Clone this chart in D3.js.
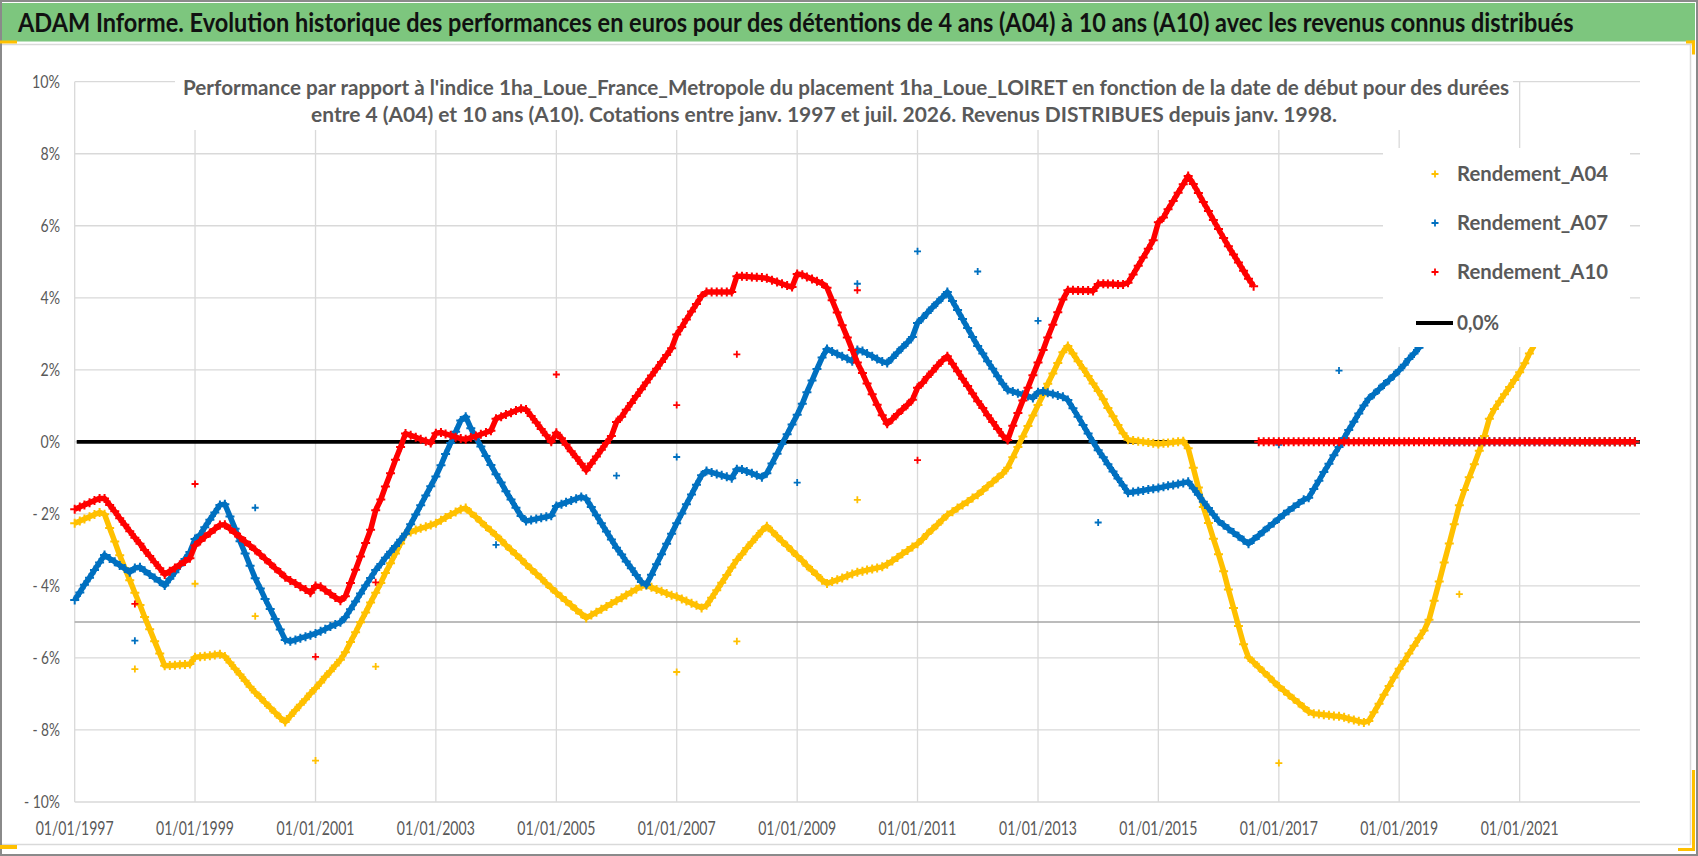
<!DOCTYPE html>
<html><head><meta charset="utf-8">
<script src="https://cdn.jsdelivr.net/npm/d3@7"></script>
<style>html,body{margin:0;padding:0;background:#fff;overflow:hidden}svg{display:block;font-family:Lato,'Open Sans',sans-serif}</style>
</head><body>
<svg id="chart" width="1698" height="856"></svg>
<script>
// ---------------- DATA ----------------
const titleText = "ADAM Informe. Evolution historique des performances en euros pour des détentions de 4 ans (A04) à 10 ans (A10) avec les revenus connus distribués";
const subtitleLines = [
  "Performance par rapport à l'indice 1ha_Loue_France_Metropole  du placement 1ha_Loue_LOIRET en fonction de la date de début pour des durées",
  "entre 4 (A04) et 10 ans (A10). Cotations entre janv. 1997 et juil. 2026. Revenus DISTRIBUES depuis janv. 1998."
];
const years = [1997,1998,1999,2000,2001,2002,2003,2004,2005,2006,2007,2008,2009,2010,2011,2012,2013,2014,2015,2016,2017,2018,2019,2020,2021,2022];
const xTickYears = [1997,1999,2001,2003,2005,2007,2009,2011,2013,2015,2017,2019,2021];
const yTicks = [-10,-8,-6,-4,-2,0,2,4,6,8,10];
const seriesNames = ["Rendement_A04","Rendement_A07","Rendement_A10"];
const zeroName = "0,0%";

// monthly values (%), one row per year, Jan..Dec
const A04 = [
[-2.26,-2.20,-2.14,-2.08,-2.02,-1.96,-2.01,-2.39,-2.77,-3.15,-3.50,-3.84],
[-4.19,-4.53,-4.86,-5.20,-5.54,-5.88,-6.22,-6.21,-6.20,-6.19,-6.18,-6.17],
[-5.98,-5.97,-5.95,-5.94,-5.92,-5.90,-5.96,-6.13,-6.30,-6.46,-6.63,-6.80],
[-6.96,-7.10,-7.24,-7.38,-7.52,-7.66,-7.78,-7.61,-7.45,-7.30,-7.15,-6.99],
[-6.84,-6.68,-6.52,-6.37,-6.21,-6.05,-5.84,-5.56,-5.29,-5.01,-4.74,-4.46],
[-4.19,-3.92,-3.64,-3.37,-3.10,-2.82,-2.55,-2.50,-2.45,-2.40,-2.36,-2.31],
[-2.26,-2.18,-2.10,-2.02,-1.95,-1.87,-1.84,-1.97,-2.09,-2.22,-2.35,-2.47],
[-2.60,-2.73,-2.87,-3.00,-3.13,-3.26,-3.40,-3.53,-3.66,-3.79,-3.93,-4.06],
[-4.19,-4.31,-4.42,-4.54,-4.66,-4.77,-4.89,-4.81,-4.73,-4.65,-4.57,-4.49],
[-4.41,-4.33,-4.25,-4.17,-4.09,-4.01,-3.98,-4.04,-4.10,-4.15,-4.21,-4.26],
[-4.30,-4.36,-4.42,-4.48,-4.54,-4.61,-4.54,-4.33,-4.12,-3.91,-3.70,-3.49],
[-3.28,-3.12,-2.95,-2.79,-2.63,-2.47,-2.34,-2.48,-2.62,-2.76,-2.89,-3.03],
[-3.17,-3.30,-3.44,-3.57,-3.70,-3.84,-3.93,-3.88,-3.83,-3.78,-3.72,-3.67],
[-3.62,-3.59,-3.56,-3.53,-3.50,-3.47,-3.40,-3.31,-3.21,-3.11,-3.02,-2.92],
[-2.83,-2.70,-2.56,-2.43,-2.30,-2.16,-2.03,-1.94,-1.84,-1.75,-1.66,-1.56],
[-1.47,-1.35,-1.23,-1.12,-1.00,-0.88,-0.72,-0.43,-0.14,0.15,0.44,0.73],
[1.02,1.31,1.61,1.90,2.19,2.49,2.66,2.45,2.24,2.04,1.83,1.62],
[1.41,1.18,0.94,0.71,0.47,0.24,0.06,0.04,0.02,0.00,-0.02,-0.04],
[-0.06,-0.04,-0.03,-0.01,0.00,0.02,-0.18,-0.72,-1.27,-1.81,-2.25,-2.69],
[-3.12,-3.59,-4.10,-4.61,-5.11,-5.62,-5.99,-6.12,-6.26,-6.39,-6.52,-6.66],
[-6.79,-6.91,-7.02,-7.14,-7.25,-7.37,-7.49,-7.55,-7.56,-7.58,-7.59,-7.61],
[-7.62,-7.65,-7.69,-7.72,-7.76,-7.79,-7.75,-7.51,-7.27,-7.02,-6.78,-6.54],
[-6.30,-6.09,-5.88,-5.66,-5.45,-5.24,-4.94,-4.41,-3.88,-3.35,-2.82,-2.29],
[-1.76,-1.34,-0.98,-0.62,-0.25,0.16,0.64,0.91,1.12,1.32,1.52,1.72],
[1.93,2.18,2.45,2.70,2.95,3.20,3.45,3.70,3.95,0,0,0],
[0,0,0,0,0,0,0,0,0,0,0,0]
];
const A07 = [
[-4.39,-4.18,-3.97,-3.77,-3.56,-3.35,-3.14,-3.24,-3.33,-3.43,-3.52,-3.62],
[-3.50,-3.48,-3.58,-3.68,-3.78,-3.88,-3.99,-3.80,-3.62,-3.43,-3.25,-3.06],
[-2.70,-2.58,-2.37,-2.16,-1.96,-1.75,-1.73,-2.07,-2.41,-2.76,-3.10,-3.44],
[-3.79,-4.07,-4.36,-4.64,-4.92,-5.21,-5.50,-5.54,-5.50,-5.45,-5.41,-5.37],
[-5.32,-5.26,-5.20,-5.13,-5.07,-5.01,-4.87,-4.65,-4.43,-4.21,-3.99,-3.78],
[-3.56,-3.39,-3.22,-3.05,-2.89,-2.72,-2.55,-2.29,-2.02,-1.76,-1.49,-1.23],
[-0.96,-0.65,-0.34,-0.03,0.28,0.59,0.70,0.38,0.12,-0.13,-0.39,-0.64],
[-0.90,-1.13,-1.37,-1.60,-1.83,-2.06,-2.20,-2.17,-2.14,-2.11,-2.08,-2.05],
[-1.78,-1.73,-1.68,-1.63,-1.58,-1.53,-1.58,-1.81,-2.04,-2.26,-2.49,-2.71],
[-2.94,-3.13,-3.32,-3.51,-3.70,-3.89,-3.97,-3.69,-3.40,-3.12,-2.83,-2.55],
[-2.26,-1.99,-1.73,-1.46,-1.19,-0.93,-0.81,-0.85,-0.89,-0.93,-0.97,-1.01],
[-0.76,-0.77,-0.82,-0.87,-0.93,-0.98,-0.87,-0.60,-0.33,-0.06,0.21,0.48],
[0.75,1.06,1.38,1.70,2.02,2.34,2.58,2.51,2.44,2.38,2.31,2.24],
[2.55,2.52,2.45,2.38,2.30,2.23,2.19,2.33,2.48,2.62,2.76,2.91],
[3.30,3.44,3.58,3.73,3.87,4.01,4.16,3.91,3.66,3.41,3.16,2.91],
[2.66,2.45,2.24,2.03,1.82,1.61,1.44,1.40,1.35,1.31,1.27,1.22],
[1.38,1.40,1.36,1.33,1.29,1.25,1.16,0.93,0.70,0.47,0.23,0.00],
[-0.23,-0.43,-0.62,-0.82,-1.02,-1.21,-1.41,-1.39,-1.37,-1.35,-1.32,-1.30],
[-1.28,-1.25,-1.22,-1.20,-1.17,-1.14,-1.11,-1.29,-1.47,-1.66,-1.84,-2.02],
[-2.20,-2.31,-2.41,-2.52,-2.62,-2.73,-2.83,-2.71,-2.60,-2.48,-2.36,-2.25],
[-2.13,-2.01,-1.91,-1.81,-1.71,-1.61,-1.55,-1.31,-1.08,-0.84,-0.61,-0.37],
[-0.14,0.11,0.33,0.56,0.79,1.01,1.20,1.33,1.46,1.59,1.72,1.85],
[1.99,2.14,2.30,2.45,2.61,2.76,2.92,3.07,3.23,0,0,0],
[0,0,0,0,0,0,0,0,0,0,0,0],
[0,0,0,0,0,0,0,0,0,0,0,0],
[0,0,0,0,0,0,0,0,0,0,0,0]
];
const A10 = [
[-1.87,-1.81,-1.75,-1.69,-1.63,-1.57,-1.57,-1.75,-1.93,-2.12,-2.30,-2.48],
[-2.66,-2.83,-3.00,-3.17,-3.34,-3.51,-3.68,-3.59,-3.50,-3.41,-3.32,-3.23],
[-2.88,-2.75,-2.64,-2.53,-2.42,-2.31,-2.30,-2.42,-2.53,-2.65,-2.77,-2.88],
[-3.00,-3.13,-3.25,-3.38,-3.51,-3.63,-3.76,-3.85,-3.93,-4.02,-4.10,-4.19],
[-4.00,-4.02,-4.12,-4.22,-4.32,-4.41,-4.29,-3.92,-3.55,-3.18,-2.81,-2.44],
[-1.90,-1.60,-1.24,-0.87,-0.50,-0.14,0.23,0.18,0.13,0.07,0.02,-0.03],
[0.24,0.26,0.22,0.18,0.13,0.09,0.07,0.12,0.16,0.21,0.26,0.31],
[0.64,0.70,0.76,0.81,0.87,0.92,0.90,0.72,0.54,0.36,0.18,0.00],
[0.25,0.10,-0.08,-0.26,-0.43,-0.61,-0.79,-0.60,-0.41,-0.22,-0.03,0.16],
[0.55,0.70,0.89,1.08,1.27,1.46,1.65,1.84,2.03,2.22,2.41,2.60],
[2.98,3.19,3.40,3.62,3.83,4.05,4.16,4.16,4.16,4.16,4.16,4.16],
[4.60,4.60,4.59,4.58,4.57,4.56,4.54,4.49,4.44,4.39,4.34,4.30],
[4.66,4.64,4.58,4.52,4.46,4.40,4.28,3.93,3.59,3.24,2.90,2.55],
[2.20,1.91,1.62,1.32,1.03,0.74,0.50,0.63,0.77,0.90,1.03,1.17],
[1.50,1.64,1.80,1.95,2.11,2.26,2.38,2.17,1.96,1.75,1.55,1.34],
[1.13,0.94,0.74,0.55,0.36,0.17,0.05,0.45,0.80,1.15,1.50,1.85],
[2.20,2.55,2.90,3.25,3.60,3.95,4.21,4.21,4.20,4.20,4.20,4.19],
[4.38,4.39,4.38,4.38,4.37,4.37,4.42,4.65,4.89,5.12,5.36,5.60],
[6.10,6.23,6.46,6.69,6.92,7.15,7.38,7.16,6.91,6.66,6.41,6.16],
[5.91,5.66,5.43,5.20,4.98,4.75,4.53,4.32,0,0,0,0],
[0,0,0,0,0,0,0,0,0,0,0,0],
[0,0,0,0,0,0,0,0,0,0,0,0],
[0,0,0,0,0,0,0,0,0,0,0,0],
[0,0,0,0,0,0,0,0,0,0,0,0],
[0,0,0,0,0,0,0,0,0,0,0,0],
[0,0,0,0,0,0,0,0,0,0,0,0]
];
// isolated January points [year, value %]
const outA04 = [[1998,-6.31],[1999,-3.94],[2000,-4.84],[2001,-8.85],[2002,-6.24],[2007,-6.39],[2008,-5.54],[2010,-1.61],[2017,-8.92],[2020,-4.23]];
const outA07 = [[1998,-5.52],[2000,-1.83],[2004,-2.86],[2006,-0.94],[2007,-0.42],[2009,-1.13],[2010,4.39],[2011,5.29],[2012,4.73],[2013,3.36],[2014,-2.24],[2017,-0.08],[2018,1.98]];
const outA10 = [[1998,-4.50],[1999,-1.17],[2001,-5.97],[2002,-3.90],[2005,1.87],[2007,1.02],[2008,2.43],[2010,4.21],[2011,-0.51]];
const refLevel = -5; // darker reference line
const colors = ["#FFC000","#0070C0","#FF0000"];

// ---------------- LAYOUT ----------------
const W = 1698, H = 856;
const P = {left:74.7, right:1640, top:81.7, bottom:802};
const svg = d3.select("#chart");
const x = d3.scaleTime().domain([new Date(1997,0,1), new Date(2023,0,1)]).range([P.left, P.right]);
const y = d3.scaleLinear().domain([-10,10]).range([P.bottom, P.top]);
const gray = "#595959";

// fit a text horizontally to a target width with a scale transform
function fitText(sel, x0, y0, target, anchor){
  const node = sel.node();
  const w = node.getComputedTextLength();
  const k = target / w;
  const tx = anchor === "middle" ? x0 - target/2 : x0;
  sel.attr("x",0).attr("y",0).attr("text-anchor","start")
     .attr("transform",`translate(${tx},${y0}) scale(${k},1)`);
}

// frame
svg.append("rect").attr("x",0).attr("y",0).attr("width",W).attr("height",H).attr("fill","#fff");
svg.append("rect").attr("x",2).attr("y",3).attr("width",1693).attr("height",38.5).attr("fill","#7DC67E");
svg.append("line").attr("x1",2).attr("x2",1695).attr("y1",44.5).attr("y2",44.5).attr("stroke","#d9d9d9").attr("stroke-width",1.5);
svg.append("line").attr("x1",1690.5).attr("x2",1690.5).attr("y1",44).attr("y2",845).attr("stroke","#d9d9d9").attr("stroke-width",1.5);
svg.append("line").attr("x1",2).attr("x2",1691).attr("y1",844.5).attr("y2",844.5).attr("stroke","#d9d9d9").attr("stroke-width",1.5);
svg.append("rect").attr("x",1).attr("y",1).attr("width",W-2).attr("height",H-2).attr("fill","none").attr("stroke","#8a8a8a").attr("stroke-width",2);

// title
const tt = svg.append("text").attr("font-size",26).attr("font-weight","bold").attr("fill","#111").text(titleText);
fitText(tt, 18, 32, 1557, "start");

// gridlines
const grid = svg.append("g");
grid.selectAll("line.h").data(yTicks).join("line").attr("class","h")
  .attr("x1",P.left).attr("x2",P.right).attr("y1",d=>y(d)).attr("y2",d=>y(d))
  .attr("stroke","#d9d9d9").attr("stroke-width",1.3);
grid.selectAll("line.v").data(xTickYears).join("line").attr("class","v")
  .attr("x1",d=>x(new Date(d,0,1))).attr("x2",d=>x(new Date(d,0,1)))
  .attr("y1",P.top).attr("y2",P.bottom).attr("stroke","#d9d9d9").attr("stroke-width",1.3);
grid.append("line").attr("x1",P.left).attr("x2",P.right).attr("y1",y(refLevel)).attr("y2",y(refLevel))
  .attr("stroke","#a6a6a6").attr("stroke-width",1.6);

// axis labels
const yLab = d => d<0 ? "- "+Math.abs(d)+"%" : d+"%";
svg.append("g").selectAll("text").data(yTicks).join("text")
  .attr("x",60).attr("y",d=>y(d)).attr("dy","0.36em").attr("text-anchor","end")
  .attr("font-size",17).attr("fill",gray)
  .attr("textLength",d=>String(Math.abs(d)).length*8.5+11+(d<0?8:0)).attr("lengthAdjust","spacingAndGlyphs")
  .text(yLab);
const fmt = d3.timeFormat("%d/%m/%Y");
svg.append("g").selectAll("text").data(xTickYears).join("text")
  .attr("x",d=>x(new Date(d,0,1))).attr("y",835).attr("text-anchor","middle")
  .attr("font-size",20).attr("fill",gray)
  .attr("textLength",78).attr("lengthAdjust","spacingAndGlyphs")
  .text(d=>fmt(new Date(d,0,1)));

// subtitle (with white background hiding gridlines)
svg.append("rect").attr("x",175).attr("y",62).attr("width",1338).attr("height",68).attr("fill","#fff");
const subX = [846, 824], subLen = [1326, 1026];
svg.append("g").selectAll("text").data(subtitleLines).join("text")
  .attr("x",(d,i)=>subX[i]).attr("y",(d,i)=>95+i*27).attr("text-anchor","middle")
  .attr("font-size",20).attr("font-weight","bold").attr("fill",gray)
  .attr("textLength",(d,i)=>subLen[i]).attr("lengthAdjust","spacingAndGlyphs").text(d=>d);

// zero line
svg.append("line").attr("x1",x(new Date(1997,0,1))+2).attr("x2",P.right).attr("y1",y(0)).attr("y2",y(0))
  .attr("stroke","#000").attr("stroke-width",3.6);

// series
const plus = "M-4.5,0H4.5M0,-4.5V4.5";
const lineGen = d3.line().x(d=>x(d.d)).y(d=>y(d.v));
function drawSeries(vals, outs, color){
  const pts = [];
  years.forEach((yr,i)=>vals[i].forEach((v,m)=>pts.push({d:new Date(yr,m,1), v})));
  const segs = []; let cur = [];
  pts.forEach((p,i)=>{ if(i>0 && Math.abs(p.v-pts[i-1].v)>1.0){ segs.push(cur); cur=[]; } cur.push(p); });
  segs.push(cur);
  const g = svg.append("g");
  g.selectAll("path.seg").data(segs).join("path").attr("class","seg").attr("d",lineGen)
    .attr("fill","none").attr("stroke",color).attr("stroke-width",5.5).attr("stroke-linejoin","round");
  g.selectAll("path.mk").data(pts).join("path").attr("class","mk").attr("d",plus)
    .attr("transform",p=>`translate(${x(p.d)},${y(p.v)})`).attr("stroke",color).attr("stroke-width",2).attr("fill","none");
  g.selectAll("path.out").data(outs).join("path").attr("class","out").attr("d","M-3.5,0H3.5M0,-3.5V3.5")
    .attr("transform",o=>`translate(${x(new Date(o[0],0,1))},${y(o[1])})`).attr("stroke",color).attr("stroke-width",1.8).attr("fill","none");
}
drawSeries(A04, outA04, colors[0]);
drawSeries(A07, outA07, colors[1]);
drawSeries(A10, outA10, colors[2]);

// legend
const lg = svg.append("g");
lg.append("rect").attr("x",1383).attr("y",148).attr("width",247).attr("height",199).attr("fill","#fff");
const legY = [174,223,272];
seriesNames.forEach((n,i)=>{
  lg.append("path").attr("d","M-3.5,0H3.5M0,-3.5V3.5").attr("transform",`translate(1435,${legY[i]})`)
    .attr("stroke",colors[i]).attr("stroke-width",1.8);
  lg.append("text").attr("x",1457).attr("y",legY[i]).attr("dy","0.36em").attr("font-size",20).attr("font-weight","bold")
    .attr("fill",gray).attr("textLength",151).attr("lengthAdjust","spacingAndGlyphs").text(n);
});
lg.append("line").attr("x1",1416).attr("x2",1453).attr("y1",323).attr("y2",323).attr("stroke","#000").attr("stroke-width",4);
lg.append("text").attr("x",1457).attr("y",323).attr("dy","0.36em").attr("font-size",20).attr("font-weight","bold")
  .attr("fill",gray).attr("textLength",42).attr("lengthAdjust","spacingAndGlyphs").text(zeroName);

// selection handles
const hc = "#FFC000";
[[0,40.5,17,3],[0,845,17,4],[1686,40.5,9,3],[1692,40.5,3,14],[1692,770,3,81],[1678,848,17,3]].forEach(r=>{
  svg.append("rect").attr("x",r[0]).attr("y",r[1]).attr("width",r[2]).attr("height",r[3]).attr("fill",hc);
});
</script>
</body></html>
